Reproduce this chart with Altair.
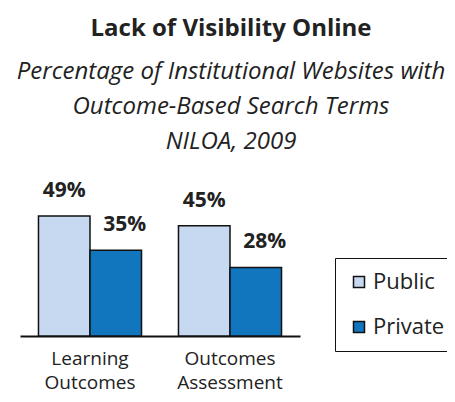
import altair as alt
import pandas as pd

categories = ["Learning Outcomes", "Outcomes Assessment"]
series = ["Public", "Private"]
public_values = [49, 45]
private_values = [35, 28]
colors = ["#C6D9F1", "#1176BE"]

rows = []
for i, c in enumerate(categories):
    rows.append({"category": c, "series": "Public", "value": public_values[i]})
    rows.append({"category": c, "series": "Private", "value": private_values[i]})
df = pd.DataFrame(rows)

FONT = "Open Sans"
TXT = "#222222"

x_enc = alt.X("category:N", sort=categories, title=None,
              scale=alt.Scale(paddingInner=0.264, paddingOuter=0.132),
              axis=alt.Axis(labelAngle=0, ticks=False, domainColor="#111111", domainWidth=2,
                            labelFont=FONT, labelFontSize=19, labelColor=TXT, labelPadding=13,
                            labelLineHeight=24, labelExpr="split(datum.label, ' ')"))
xo_enc = alt.XOffset("series:N", sort=series)
y_enc = alt.Y("value:Q", scale=alt.Scale(domain=[0, 60]), axis=None)

bars = alt.Chart(df).mark_bar(stroke="#111111", strokeWidth=1.5).encode(
    x=x_enc, xOffset=xo_enc, y=y_enc,
    color=alt.Color("series:N", sort=series,
                    scale=alt.Scale(domain=series, range=colors),
                    legend=alt.Legend(title=None, orient="none", legendX=315, legendY=69,
                                      strokeColor="#111111", padding=13,
                                      symbolType="square", symbolSize=121,
                                      symbolStrokeColor="#111111", symbolStrokeWidth=1.5,
                                      labelFont=FONT, labelFontSize=22, labelColor=TXT,
                                      rowPadding=23, labelOffset=3)),
)

def labels(name, dx):
    return alt.Chart(df).transform_filter(alt.datum.series == name).transform_calculate(
        label="datum.value + '%'"
    ).mark_text(font=FONT, fontSize=21, fontWeight="bold", color=TXT,
                baseline="alphabetic", dy=-19, dx=dx).encode(
        x=alt.X("category:N", sort=categories),
        xOffset=alt.XOffset("series:N", sort=series),
        y="value:Q",
        text="label:N",
    )

chart = alt.layer(bars, labels("Public", 0), labels("Private", 9)).properties(
    width=280, height=147,
    autosize=alt.AutoSizeParams(type="none"),
    padding={"left": 12, "top": 181, "right": 147, "bottom": 58},
    title=alt.TitleParams(
        text="Lack of Visibility Online",
        subtitle=["Percentage of Institutional Websites with",
                  "Outcome-Based Search Terms", "NILOA, 2009"],
        font=FONT, fontSize=24, fontWeight="bold", color=TXT,
        subtitleFont=FONT, subtitleFontSize=24, subtitleFontStyle="italic",
        subtitleColor=TXT, subtitleLineHeight=35, subtitlePadding=19,
        anchor="middle", dx=71, offset=26,
    ),
).configure_view(stroke=None)

chart.save("out.html", embed_options={"renderer": "svg", "actions": False})
